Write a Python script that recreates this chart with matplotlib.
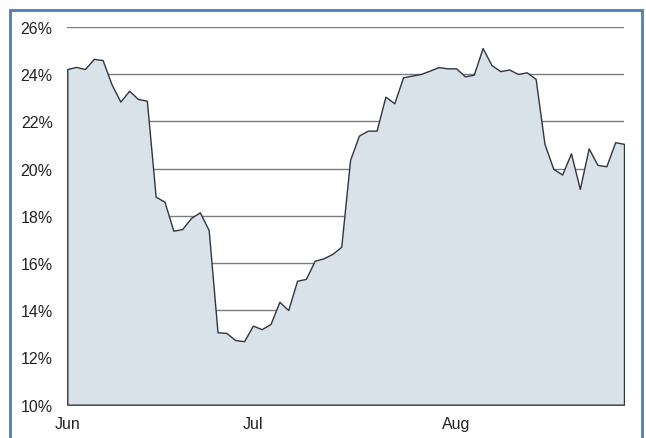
import matplotlib
matplotlib.use("Agg")
import matplotlib.pyplot as plt
import numpy as np
from matplotlib.patches import Rectangle

# daily values, one per trading day, Jun - Aug
values = [24.22, 24.31, 24.22, 24.65, 24.60, 23.58, 22.84, 23.30, 22.95, 22.88,
          18.81, 18.60, 17.37, 17.44, 17.91, 18.15, 17.40, 13.07, 13.04, 12.74,
          12.69, 13.35, 13.20, 13.42, 14.36, 14.01, 15.25, 15.33, 16.10, 16.20,
          16.39, 16.69, 20.37, 21.40, 21.61, 21.61, 23.05, 22.77, 23.87, 23.94,
          24.01, 24.15, 24.30, 24.25, 24.25, 23.91, 23.98, 25.11, 24.39, 24.13,
          24.20, 24.01, 24.08, 23.80, 21.05, 19.99, 19.75, 20.65, 19.14, 20.86,
          20.16, 20.10, 21.12, 21.05]
month_labels = ['Jun', 'Jul', 'Aug']
month_starts = [0, 21, 44]
y_ticks = [10, 12, 14, 16, 18, 20, 22, 24, 26]

plt.rcParams['font.family'] = ['Liberation Sans', 'DejaVu Sans']

fig = plt.figure(figsize=(6.46, 4.39), dpi=100)
ax = fig.add_axes([67.3/646, 1-405.7/439, (624-67.3)/646, (405.7-28)/439])

x = np.arange(len(values))
ax.fill_between(x, 10, values, facecolor='#d9e1e9', edgecolor='#2f3642',
                linewidth=1.0, zorder=2)

for t in y_ticks[1:]:
    ax.axhline(t, color='#7a7e84', linewidth=1.0, zorder=1)

ax.set_xlim(0, len(values)-1)
ax.set_ylim(10, 26)
ax.set_yticks(y_ticks)
ax.set_yticklabels([f'{t}%' for t in y_ticks])
ax.set_xticks(month_starts)
ax.set_xticklabels(month_labels)
ax.tick_params(axis='y', length=0, pad=10.5, labelsize=11.5, labelcolor='#222222')
ax.tick_params(axis='x', length=0, pad=8, labelsize=11.5, labelcolor='#222222')
for s in ax.spines.values():
    s.set_visible(False)

fig.patches.append(Rectangle((10/646, -0.2), (642-10)/646, 1.2-11/439,
                             transform=fig.transFigure, fill=False,
                             edgecolor='#4a7fb5', linewidth=2.0))

fig.savefig('out.png', dpi=100)
